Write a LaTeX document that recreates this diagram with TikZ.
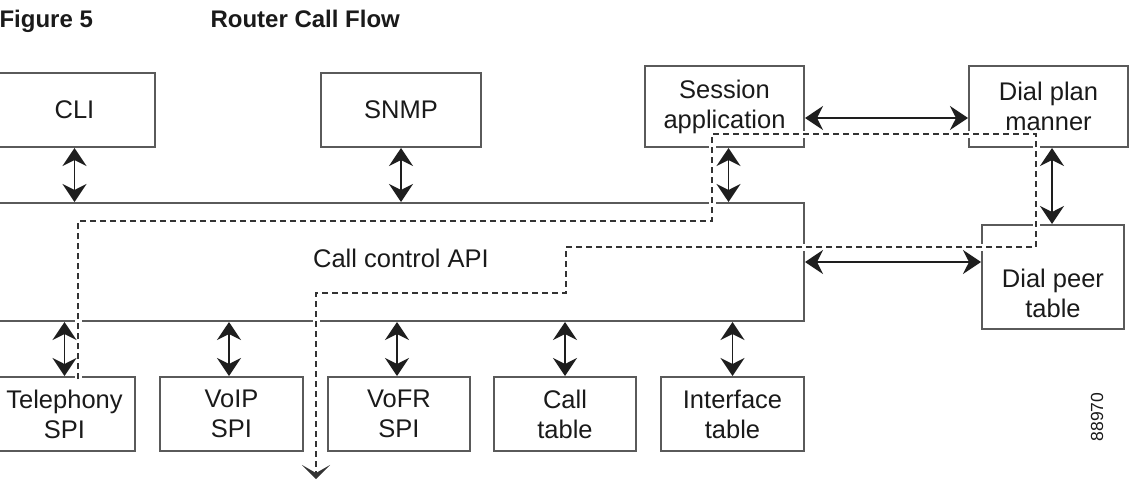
\documentclass[tikz,border=0pt]{standalone}
\usepackage{fontspec}
\setmainfont{Liberation Sans}
\usetikzlibrary{arrows.meta,positioning}

\definecolor{boxgray}{HTML}{5A5A5A}
\definecolor{linkblack}{HTML}{1E1E1E}
\definecolor{flowgray}{HTML}{333333}
\definecolor{txt}{HTML}{1A1A1A}

\tikzset{
	block/.style={draw=boxgray, line width=2pt, align=center, inner sep=0pt, text=txt},
	link/.style={arrows={Stealth[length=18pt,width=24pt,inset=6pt]-Stealth[length=18pt,width=24pt,inset=6pt]}, line width=1.8pt, draw=linkblack},
	flow/.style={arrows={-Stealth[length=14pt,width=28pt,inset=8pt]}, dash pattern=on 6pt off 4pt, line width=1.7pt, draw=flowgray,
		preaction={draw=white, solid, line width=7pt}}
}

\begin{document}
\begin{tikzpicture}[x=1pt,y=-1pt, font=\fontsize{25.5}{30}\selectfont]
				\useasboundingbox (0,0) rectangle (1135,480);
				
				\node[anchor=base west, font=\fontsize{24}{27}\selectfont\bfseries, text=txt] (fig) at (-4,27) {Figure 5};
				\node[anchor=base west, font=\fontsize{24}{27}\selectfont\bfseries, text=txt] (ttl) at (207,27) {Router Call Flow};
				
				% top row
				\node[block, minimum width=161pt, minimum height=74pt] (cli) at (74.5,110) {CLI};
				\node[block, minimum width=160pt, minimum height=74pt] (snmp) at (401,110) {SNMP};
				\node[block, minimum width=159pt, minimum height=81pt] (sess) at (724.5,106.5) {Session\\application};
				\node[block, minimum width=159pt, minimum height=81pt] (dplan) at (1048.5,106.5) {Dial plan\\manner};
				
				% middle
				\node[block, minimum width=810pt, minimum height=118pt] (api) at (399,262) {};
				\node[text=txt] (apitxt) at (401,258) {Call control API};
				\node[block, minimum width=142pt, minimum height=104pt] (dpeer) at (1053,277) {};
				\node[align=center, text=txt] (dpeertxt) at ([yshift=-16pt]dpeer.center) {Dial peer\\table};
				
				% bottom row
				\node[block, minimum width=141pt, minimum height=74pt] (tel) at (64.5,414) {Telephony\\SPI};
				\node[block, minimum width=143pt, minimum height=74pt] (voip) at (231.5,414) {VoIP\\SPI};
				\node[block, minimum width=142pt, minimum height=74pt] (vofr) at (399,414) {VoFR\\SPI};
				\node[block, minimum width=142pt, minimum height=74pt] (calltab) at (565,414) {Call\\table};
				\node[block, minimum width=143pt, minimum height=74pt] (iface) at (732.5,414) {Interface\\table};
				
				\node[rotate=90, font=\fontsize{17.5}{20}\selectfont, text=txt] (fignum) at (1097,417) {88970};
				
				% call path
				\coordinate (fstart) at (78,379);
				\coordinate (fend) at (316,479);
				\draw[flow] (fstart) |- (712,221) |- (1036,134) |- (566,247) |- (316,293) -- (fend);
				
				\draw[link] (cli.south) -- (cli.south |- api.north);
				\draw[link] (snmp.south) -- (snmp.south |- api.north);
				\draw[link] ([xshift=4pt]sess.south) -- ([xshift=4pt]sess.south |- api.north);
				\draw[link] ([xshift=3.5pt]dplan.south) -- ([xshift=3.5pt]dplan.south |- dpeer.north);
				\draw[link] ([yshift=-11.5pt]sess.east) -- ([yshift=-11.5pt]sess.east -| dplan.west);
				\draw[link] (api.east) -- (api.east -| dpeer.west);
				
				\draw[link] (tel.north) -- (tel.north |- api.south);
				\draw[link] ([xshift=-2.5pt]voip.north) -- ([xshift=-2.5pt]voip.north |- api.south);
				\draw[link] ([xshift=-2pt]vofr.north) -- ([xshift=-2pt]vofr.north |- api.south);
				\draw[link] (calltab.north) -- (calltab.north |- api.south);
				\draw[link] (iface.north) -- (iface.north |- api.south);
			\end{tikzpicture}
\end{document}
